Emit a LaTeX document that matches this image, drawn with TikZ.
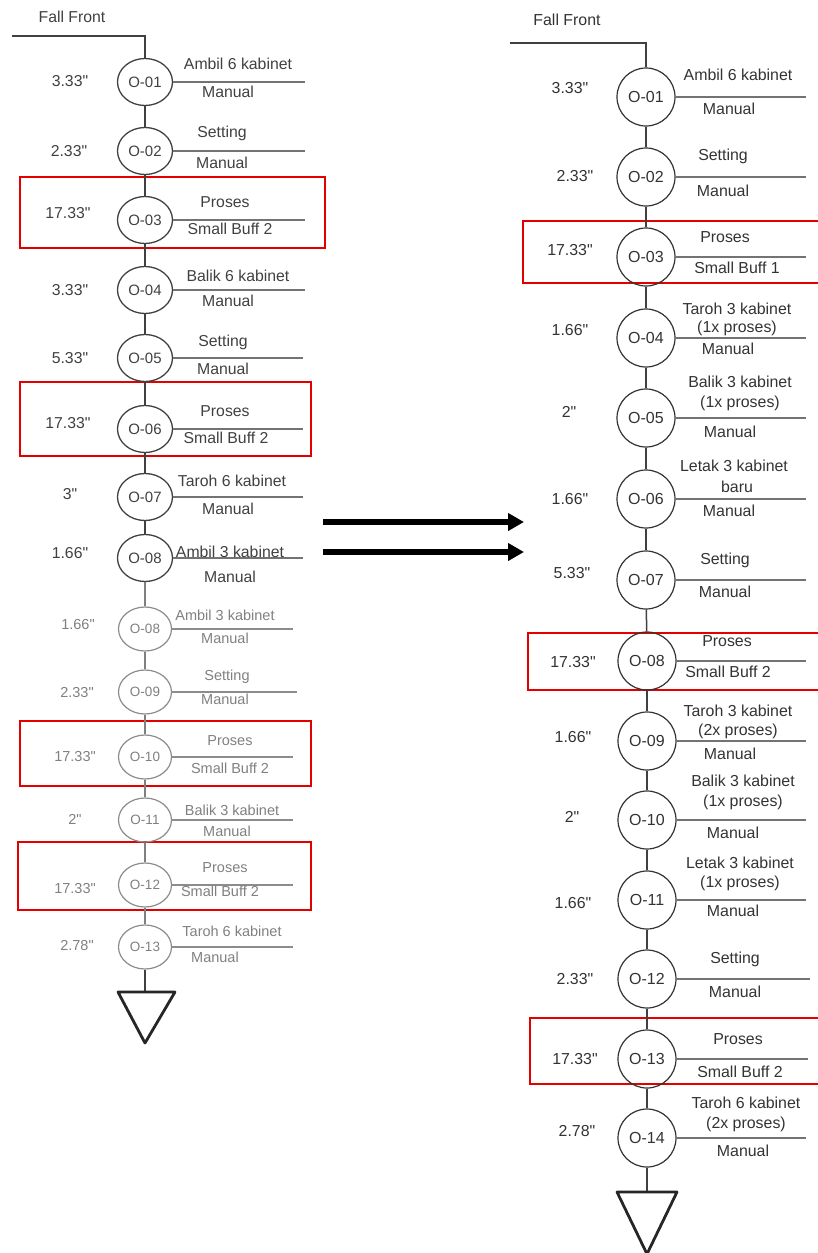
\documentclass[tikz,border=0pt]{standalone}
\usepackage{fontspec}
\newfontfamily\lsans{Liberation Sans}
\usetikzlibrary{shapes.geometric,arrows.meta}
\begin{document}
\begin{tikzpicture}[x=1pt,y=-1pt,
  every node/.style={inner sep=0pt},
  lc/.style={ellipse,draw=black!75,line width=1.3pt,minimum width=55pt,minimum height=47pt,text=black!75,font=\lsans\fontsize{15}{17}\selectfont},
  lcs/.style={ellipse,draw=black!45,line width=1.2pt,minimum width=53pt,minimum height=44pt,text=black!50,font=\lsans\fontsize{13.5}{15}\selectfont},
  rc/.style={circle,draw=black!80,line width=1.2pt,minimum size=58pt,text=black!80,font=\lsans\fontsize{16}{18}\selectfont},
  vline/.style={draw=black!75,line width=1.5pt},
  vlines/.style={draw=black!50,line width=1.5pt},
  hline/.style={draw=black!55,line width=1.8pt},
  hlines/.style={draw=black!45,line width=1.8pt},
  redbox/.style={draw=red!90!black,line width=2.5pt},
  lt/.style={text=black!75,font=\lsans\fontsize{15.8}{17}\selectfont},
  lts/.style={text=black!50,font=\lsans\fontsize{14.5}{16}\selectfont},
  rt/.style={text=black!80,font=\lsans\fontsize{15.9}{17}\selectfont},
  endtri/.style={draw=black!85,line width=2.8pt,line join=round},
  bigarrow/.style={draw=black,line width=6pt,-{Triangle[length=16pt,width=17pt]}},
]
\useasboundingbox (0,0) rectangle (818,1253);

% ---------------- left column ----------------
\draw[redbox] (20,177) rectangle (325,248);
\draw[redbox] (20,382) rectangle (311,456);
\draw[redbox] (20,721) rectangle (311,786);
\draw[redbox] (18,842) rectangle (311,910);

\node[lt] (lff) at (72,17) {Fall Front};
\coordinate (lfs) at (12,36);

\node[lc] (l1) at (145,82) {O-01};
\node[lc] (l2) at (145,151) {O-02};
\node[lc] (l3) at (145,220) {O-03};
\node[lc] (l4) at (145,290) {O-04};
\node[lc] (l5) at (145,358) {O-05};
\node[lc] (l6) at (145,429) {O-06};
\node[lc] (l7) at (145,497) {O-07};
\node[lc] (l8) at (145,558) {O-08};
\node[lcs] (l8b) at (145,629) {O-08};
\node[lcs] (l9) at (145,692) {O-09};
\node[lcs] (l10) at (145,757) {O-10};
\node[lcs] (l11) at (145,820) {O-11};
\node[lcs] (l12) at (145,885) {O-12};
\node[lcs] (l13) at (145,947) {O-13};
\coordinate (ltt) at (145,992);
\coordinate (ltl) at (118,992);
\coordinate (ltr) at (175,992);
\coordinate (lta) at (145,1043);

\draw[vline] (lfs) -| (l1);
\draw[vline] (l1) -- (l2);
\draw[vline] (l2) -- (l3);
\draw[vline] (l3) -- (l4);
\draw[vline] (l4) -- (l5);
\draw[vline] (l5) -- (l6);
\draw[vline] (l6) -- (l7);
\draw[vline] (l7) -- (l8);
\draw[vlines] (l8) -- (l8b);
\draw[vlines] (l8b) -- (l9);
\draw[vlines] (l9) -- (l10);
\draw[vlines] (l10) -- (l11);
\draw[vlines] (l11) -- (l12);
\draw[vlines] (l12) -- (l13);
\draw[vline] (l13) -- (ltt);
\draw[endtri] (ltl) -- (ltr) -- (lta) -- cycle;

\coordinate (l1e) at (305,82);
\coordinate (l2e) at (305,151);
\coordinate (l3e) at (305,220);
\coordinate (l4e) at (305,290);
\coordinate (l5e) at (303,358);
\coordinate (l6e) at (303,429);
\coordinate (l7e) at (303,497);
\coordinate (l8e) at (303,558);
\coordinate (l8be) at (293,629);
\coordinate (l9e) at (297,692);
\coordinate (l10e) at (293,757);
\coordinate (l11e) at (293,820);
\coordinate (l12e) at (293,885);
\coordinate (l13e) at (293,947);
\foreach \n in {l1,l2,l3,l4,l5,l6,l7,l8}{\draw[hline] (\n.east) -- (\n e);}
\foreach \n in {l8b,l9,l10,l11,l12,l13}{\draw[hlines] (\n.east) -- (\n e);}

\node[lt] (l1a) at (238,64) {Ambil 6 kabinet};
\node[lt] (l1b) at (228,92) {Manual};
\node[lt] (l1t) at (70,81) {3.33"};
\node[lt] (l2a) at (222,133) {Setting};
\node[lt] (l2b) at (222,163) {Manual};
\node[lt] (l2t) at (69,151) {2.33"};
\node[lt] (l3a) at (225,202) {Proses};
\node[lt] (l3b) at (230,229) {Small Buff 2};
\node[lt] (l3t) at (68,213) {17.33"};
\node[lt] (l4a) at (238,276) {Balik 6 kabinet};
\node[lt] (l4b) at (228,301) {Manual};
\node[lt] (l4t) at (70,290) {3.33"};
\node[lt] (l5a) at (223,342) {Setting};
\node[lt] (l5b) at (223,369) {Manual};
\node[lt] (l5t) at (70,358) {5.33"};
\node[lt] (l6a) at (225,411) {Proses};
\node[lt] (l6b) at (226,438) {Small Buff 2};
\node[lt] (l6t) at (68,423) {17.33"};
\node[lt] (l7a) at (232,481) {Taroh 6 kabinet};
\node[lt] (l7b) at (228,509) {Manual};
\node[lt] (l7t) at (70,494) {3"};
\node[lt] (l8a) at (230,552) {Ambil 3 kabinet};
\node[lt] (l8bb) at (230,577) {Manual};
\node[lt] (l8t) at (70,553) {1.66"};
\node[lts] (l8ba) at (225,615) {Ambil 3 kabinet};
\node[lts] (l8bm) at (225,638) {Manual};
\node[lts] (l8bt) at (78,624) {1.66"};
\node[lts] (l9a) at (227,677) {Setting};
\node[lts] (l9b) at (225,699) {Manual};
\node[lts] (l9t) at (77,692) {2.33"};
\node[lts] (l10a) at (230,741) {Proses};
\node[lts] (l10b) at (230,768) {Small Buff 2};
\node[lts] (l10t) at (75,756) {17.33"};
\node[lts] (l11a) at (232,810) {Balik 3 kabinet};
\node[lts] (l11b) at (227,831) {Manual};
\node[lts] (l11t) at (75,819) {2"};
\node[lts] (l12a) at (225,868) {Proses};
\node[lts] (l12b) at (220,891) {Small Buff 2};
\node[lts] (l12t) at (75,888) {17.33"};
\node[lts] (l13a) at (232,931) {Taroh 6 kabinet};
\node[lts] (l13b) at (215,957) {Manual};
\node[lts] (l13t) at (77,945) {2.78"};

% ---------------- arrows ----------------
\coordinate (a1s) at (323,522);
\coordinate (a1e) at (524,522);
\coordinate (a2s) at (323,552);
\coordinate (a2e) at (524,552);
\draw[bigarrow] (a1s) -- (a1e);
\draw[bigarrow] (a2s) -- (a2e);

% ---------------- right column ----------------
\draw[redbox] (523,221) rectangle (830,283);
\draw[redbox] (528,633) rectangle (830,690);
\draw[redbox] (530,1018) rectangle (830,1084);

\node[rt] (rff) at (567,20) {Fall Front};
\coordinate (rfs) at (510,43);

\node[rc] (r1) at (646,97) {O-01};
\node[rc] (r2) at (646,177) {O-02};
\node[rc] (r3) at (646,257) {O-03};
\node[rc] (r4) at (646,338) {O-04};
\node[rc] (r5) at (646,418) {O-05};
\node[rc] (r6) at (646,499) {O-06};
\node[rc] (r7) at (646,580) {O-07};
\node[rc] (r8) at (647,661) {O-08};
\node[rc] (r9) at (647,741) {O-09};
\node[rc] (r10) at (647,820) {O-10};
\node[rc] (r11) at (647,900) {O-11};
\node[rc] (r12) at (647,979) {O-12};
\node[rc] (r13) at (647,1059) {O-13};
\node[rc] (r14) at (647,1138) {O-14};
\coordinate (rtt) at (647,1192);
\coordinate (rtl) at (617,1192);
\coordinate (rtr) at (677,1192);
\coordinate (rta) at (647,1254);

\draw[vline] (rfs) -| (r1);
\draw[vline] (r1) -- (r2);
\draw[vline] (r2) -- (r3);
\draw[vline] (r3) -- (r4);
\draw[vline] (r4) -- (r5);
\draw[vline] (r5) -- (r6);
\draw[vline] (r6) -- (r7);
\draw[vline] (r7) -- (r8);
\draw[vline] (r8) -- (r9);
\draw[vline] (r9) -- (r10);
\draw[vline] (r10) -- (r11);
\draw[vline] (r11) -- (r12);
\draw[vline] (r12) -- (r13);
\draw[vline] (r13) -- (r14);
\draw[vline] (r14) -- (rtt);
\draw[endtri] (rtl) -- (rtr) -- (rta) -- cycle;

\foreach \n/\y/\x in {r1/97/806,r2/177/806,r3/257/806,r4/338/806,r5/418/806,r6/499/806,r7/580/806,r8/661/806,r9/741/806,r10/820/806,r11/900/806,r12/979/810,r13/1059/808,r14/1138/806}{
  \coordinate (\n e) at (\x,\y);
  \draw[hline] (\n.east) -- (\n e);
}

\node[rt] (r1a) at (738,75) {Ambil 6 kabinet};
\node[rt] (r1b) at (729,109) {Manual};
\node[rt] (r1t) at (570,88) {3.33"};
\node[rt] (r2a) at (723,156) {Setting};
\node[rt] (r2b) at (723,191) {Manual};
\node[rt] (r2t) at (575,176) {2.33"};
\node[rt] (r3a) at (725,237) {Proses};
\node[rt] (r3b) at (737,268) {Small Buff 1};
\node[rt] (r3t) at (570,250) {17.33"};
\node[rt] (r4a) at (737,309) {Taroh 3 kabinet};
\node[rt] (r4c) at (737,328) {(1x proses)};
\node[rt] (r4b) at (728,349) {Manual};
\node[rt] (r4t) at (570,330) {1.66"};
\node[rt] (r5a) at (740,382) {Balik 3 kabinet};
\node[rt] (r5c) at (740,403) {(1x proses)};
\node[rt] (r5b) at (730,432) {Manual};
\node[rt] (r5t) at (569,412) {2"};
\node[rt] (r6a) at (734,466) {Letak 3 kabinet};
\node[rt] (r6c) at (737,487) {baru};
\node[rt] (r6b) at (729,511) {Manual};
\node[rt] (r6t) at (570,499) {1.66"};
\node[rt] (r7a) at (725,560) {Setting};
\node[rt] (r7b) at (725,592) {Manual};
\node[rt] (r7t) at (572,573) {5.33"};
\node[rt] (r8a) at (727,641) {Proses};
\node[rt] (r8b) at (728,672) {Small Buff 2};
\node[rt] (r8t) at (573,662) {17.33"};
\node[rt] (r9a) at (738,711) {Taroh 3 kabinet};
\node[rt] (r9c) at (738,731) {(2x proses)};
\node[rt] (r9b) at (730,754) {Manual};
\node[rt] (r9t) at (573,737) {1.66"};
\node[rt] (r10a) at (743,781) {Balik 3 kabinet};
\node[rt] (r10c) at (743,802) {(1x proses)};
\node[rt] (r10b) at (733,833) {Manual};
\node[rt] (r10t) at (572,817) {2"};
\node[rt] (r11a) at (740,863) {Letak 3 kabinet};
\node[rt] (r11c) at (740,883) {(1x proses)};
\node[rt] (r11b) at (733,911) {Manual};
\node[rt] (r11t) at (573,903) {1.66"};
\node[rt] (r12a) at (735,959) {Setting};
\node[rt] (r12b) at (735,992) {Manual};
\node[rt] (r12t) at (575,979) {2.33"};
\node[rt] (r13a) at (738,1039) {Proses};
\node[rt] (r13b) at (740,1072) {Small Buff 2};
\node[rt] (r13t) at (575,1059) {17.33"};
\node[rt] (r14a) at (746,1103) {Taroh 6 kabinet};
\node[rt] (r14c) at (746,1124) {(2x proses)};
\node[rt] (r14b) at (743,1151) {Manual};
\node[rt] (r14t) at (577,1131) {2.78"};
\end{tikzpicture}
\end{document}
